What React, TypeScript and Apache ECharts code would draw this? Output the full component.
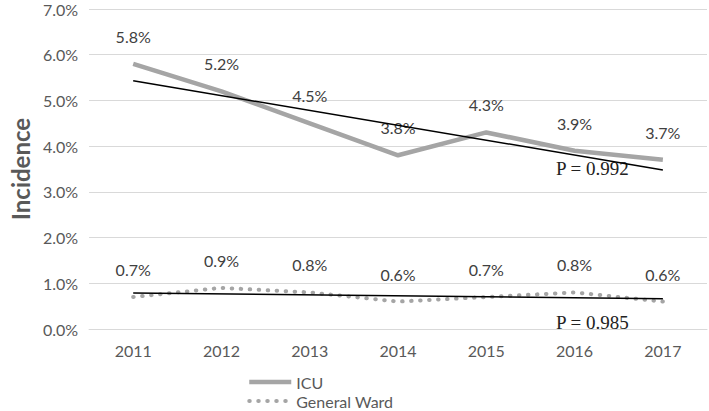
import React, { useEffect, useRef } from "react";
import * as echarts from "echarts";

const years = ["2011", "2012", "2013", "2014", "2015", "2016", "2017"];
const icu = [5.8, 5.2, 4.5, 3.8, 4.3, 3.9, 3.7];
const ward = [0.7, 0.9, 0.8, 0.6, 0.7, 0.8, 0.6];
const icuTrend = [5.43, null, null, null, null, null, 3.48];
const wardTrend = [0.79, null, null, null, null, null, 0.66];
const pLabels = ["P = 0.992", "P = 0.985"];

const FONT = "Lato, 'Noto Sans', sans-serif";

export default function App() {
  const ref = useRef<HTMLDivElement>(null);
  useEffect(() => {
    if (!ref.current) return;
    const chart = echarts.init(ref.current, undefined, { renderer: "svg" });
    const labelCfg = {
      show: true,
      position: "top",
      distance: 19,
      color: "#404040",
      fontSize: 16,
      fontFamily: FONT,
      formatter: (p: any) => Number(p.value).toFixed(1) + "%",
    };
    const icuLine = { color: "#a5a5a5", width: 4.5 };
    const wardLine = { color: "#a5a5a5", width: 4, type: [0.5, 8.5], cap: "round" };
    chart.setOption({
      animation: false,
      textStyle: { fontFamily: FONT },
      grid: { left: 78, right: 2, top: 9, bottom: 82 },
      xAxis: {
        type: "category",
        data: years,
        boundaryGap: true,
        axisLine: { show: true, lineStyle: { color: "#d9d9d9" } },
        axisTick: { show: false },
        axisLabel: { color: "#595959", fontSize: 16, margin: 13, fontFamily: FONT },
      },
      yAxis: {
        type: "value",
        min: 0,
        max: 7,
        interval: 1,
        name: "Incidence",
        nameLocation: "middle",
        nameGap: 55,
        nameTextStyle: { color: "#595959", fontSize: 24, fontWeight: "bold", fontFamily: FONT },
        axisLine: { show: false },
        axisTick: { show: false },
        splitLine: { lineStyle: { color: "#d9d9d9", width: 1 } },
        axisLabel: {
          color: "#595959",
          fontSize: 16,
          margin: 11,
          fontFamily: FONT,
          formatter: (v: number) => v.toFixed(1) + "%",
        },
      },
      legend: {
        orient: "vertical",
        left: 247,
        top: 374,
        padding: 0,
        itemWidth: 42,
        itemHeight: 10,
        itemGap: 3,
        data: [
          { name: "ICU", lineStyle: icuLine },
          { name: "General Ward", lineStyle: wardLine },
        ],
        textStyle: { color: "#595959", fontSize: 16, fontFamily: FONT },
      },
      series: [
        {
          name: "ICU",
          type: "line",
          data: icu,
          symbol: "circle",
          symbolSize: 1,
          lineStyle: icuLine,
          itemStyle: { color: "rgba(0,0,0,0)" },
          label: labelCfg,
          z: 2,
        },
        {
          name: "General Ward",
          type: "line",
          data: ward,
          symbol: "circle",
          symbolSize: 1,
          lineStyle: wardLine,
          itemStyle: { color: "rgba(0,0,0,0)" },
          label: labelCfg,
          z: 2,
        },
        {
          name: "icuTrend",
          type: "line",
          data: icuTrend,
          connectNulls: true,
          symbol: "none",
          lineStyle: { color: "#000", width: 1.5 },
          z: 3,
          silent: true,
        },
        {
          name: "wardTrend",
          type: "line",
          data: wardTrend,
          connectNulls: true,
          symbol: "none",
          lineStyle: { color: "#000", width: 1.5 },
          z: 3,
          silent: true,
        },
      ],
      graphic: [
        {
          type: "text",
          left: 556,
          top: 159,
          style: { text: pLabels[0], fontSize: 19, fontFamily: "'Liberation Serif', serif", fill: "#222" },
        },
        {
          type: "text",
          left: 556,
          top: 313,
          style: { text: pLabels[1], fontSize: 19, fontFamily: "'Liberation Serif', serif", fill: "#222" },
        },
      ],
    });
    return () => chart.dispose();
  }, []);
  return <div ref={ref} style={{ width: 709, height: 411, position: "absolute", left: 0, top: 0 }} />;
}
